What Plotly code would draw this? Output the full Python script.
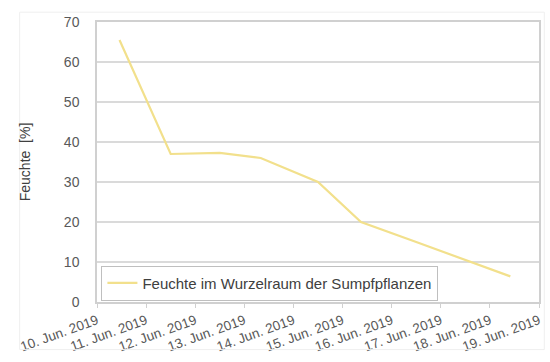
import plotly.graph_objects as go

# Moisture readings in the root zone of the marsh plants
zeitpunkte = [
    "2019-06-10 11:00", "2019-06-11 12:00", "2019-06-12 12:00",
    "2019-06-13 08:00", "2019-06-14 12:00", "2019-06-15 09:00",
    "2019-06-16 12:00", "2019-06-17 12:00", "2019-06-18 10:00",
]
feuchte = [65.5, 37.0, 37.3, 36.0, 30.0, 20.0, 15.0, 10.5, 6.4]

tick_tage = [f"2019-06-{d:02d}" for d in range(10, 20)]
tick_texte = [f"{d}. Jun. 2019" for d in range(10, 20)]

y_ticks = list(range(0, 71, 10))

schrift = "Liberation Sans"
grau = "#595959"

fig = go.Figure()
fig.add_trace(go.Scatter(
    x=zeitpunkte,
    y=feuchte,
    mode="lines",
    name="Feuchte im Wurzelraum der Sumpfpflanzen",
    line=dict(color="#F2E08C", width=2.2),
))

# faint outer frame of the chart area
fig.add_shape(
    type="rect", xref="paper", yref="paper",
    x0=-0.175, x1=1.012, y0=-0.17, y1=1.035,
    line=dict(color="#EFEFEF", width=1),
)

fig.update_layout(
    width=550,
    height=362,
    margin=dict(l=97, r=8, t=22, b=54),
    paper_bgcolor="white",
    plot_bgcolor="white",
    font=dict(family=schrift, size=13, color=grau),
    showlegend=True,
    legend=dict(
        x=0.01, y=0.005, xanchor="left", yanchor="bottom",
        bgcolor="white",
        bordercolor="#BFBFBF", borderwidth=1,
        font=dict(family=schrift, size=15, color="#404040"),
        itemwidth=30,
    ),
    xaxis=dict(
        type="date",
        range=["2019-06-10", "2019-06-19"],
        tickmode="array",
        tickvals=tick_tage,
        ticktext=tick_texte,
        tickangle=-20,
        tickfont=dict(family=schrift, size=13.5, color=grau),
        showgrid=False,
        showline=True, linecolor="#D0D0D0", linewidth=1.5,
        mirror=True,
        ticks="outside", ticklen=4, tickcolor="#D0D0D0",
        zeroline=False,
    ),
    yaxis=dict(
        range=[0, 70],
        tickvals=y_ticks,
        tickfont=dict(family=schrift, size=14, color=grau),
        showgrid=True, gridcolor="#DADADA", gridwidth=1.5,
        showline=True, linecolor="#D0D0D0", linewidth=1.5,
        mirror=True,
        ticks="", ticklabelstandoff=13,
        zeroline=False,
        title=dict(text="Feuchte  [%]", font=dict(family=schrift, size=14, color="#404040"), standoff=30),
    ),
)

fig.write_html("out.html")
